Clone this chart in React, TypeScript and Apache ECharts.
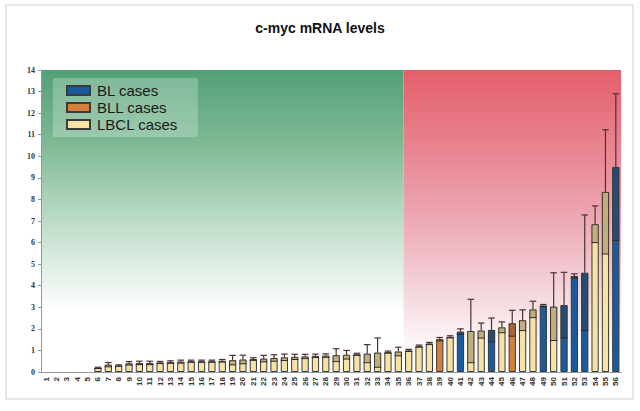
import React, { useEffect, useRef } from "react";
import * as echarts from "echarts";

const categories = [
  "1","2","3","4","5","6","7","8","9","10","11","12","13","14","15","16","17","18","19","20",
  "21","22","23","24","25","26","27","28","29","30","31","32","33","34","35","36","37","38","39","40",
  "41","42","43","44","45","46","47","48","49","50","51","52","53","54","55","56",
];

const meanValues = [
  0, 0, 0, 0, 0, 0.19, 0.34, 0.3, 0.4, 0.42, 0.42, 0.44, 0.46, 0.48, 0.5, 0.5, 0.5, 0.52, 0.55, 0.58,
  0.6, 0.62, 0.65, 0.68, 0.7, 0.72, 0.75, 0.76, 0.78, 0.8, 0.82, 0.85, 0.9, 0.92, 0.95, 1.0, 1.2, 1.32, 1.52, 1.63,
  1.87, 1.9, 1.92, 1.95, 2.07, 2.26, 2.4, 2.9, 3.08, 3.03, 3.1, 4.45, 4.6, 6.85, 8.35, 9.5,
];

const sdValues = [
  0, 0, 0, 0, 0, 0.03, 0.1, 0.03, 0.08, 0.08, 0.08, 0.05, 0.06, 0.07, 0.05, 0.05, 0.05, 0.06, 0.22, 0.2,
  0.06, 0.15, 0.15, 0.15, 0.12, 0.1, 0.08, 0.08, 0.3, 0.2, 0.05, 0.42, 0.68, 0.05, 0.2, 0.05, 0.05, 0.05, 0.08, 0.05,
  0.13, 1.47, 0.35, 0.55, 0.25, 0.6, 0.48, 0.38, 0.05, 1.57, 1.52, 0.1, 2.68, 0.85, 2.88, 3.4,
];

const blCases = ["41", "44", "49", "51", "52", "53", "56"];
const bllCases = ["39", "46"];

const greenRange = ["1", "35"];
const redRange = ["36", "56"];

const yTicks = { min: 0, max: 14, interval: 1 };

export default function App() {
  const ref = useRef<HTMLDivElement>(null);

  useEffect(() => {
    if (!ref.current) return;
    const chart = echarts.init(ref.current, undefined, { renderer: "svg" });

    const groupOf = (c: string) =>
      blCases.includes(c) ? "BL" : bllCases.includes(c) ? "BLL" : "LBCL";

    const barData = (g: string) =>
      categories.map((c, i) => (groupOf(c) === g && meanValues[i] > 0 ? meanValues[i] : "-"));

    const barStyle = (color: string) => ({
      color,
      borderColor: "#3a3a3a",
      borderWidth: 1,
    });

    const greenGrad = new echarts.graphic.LinearGradient(0, 0, 0, 1, [
      { offset: 0, color: "#52a077" },
      { offset: 0.25, color: "#80ba95" },
      { offset: 0.5, color: "#bddcc8" },
      { offset: 0.72, color: "#eef6f1" },
      { offset: 0.8, color: "#ffffff" },
      { offset: 1, color: "#ffffff" },
    ]);
    const redGrad = new echarts.graphic.LinearGradient(0, 0, 0, 1, [
      { offset: 0, color: "#e55e6b" },
      { offset: 0.25, color: "#e8838f" },
      { offset: 0.5, color: "#eda9b5" },
      { offset: 0.75, color: "#f5d9df" },
      { offset: 0.9, color: "#fdf6f7" },
      { offset: 1, color: "#ffffff" },
    ]);

    const bgData = [
      [categories.indexOf(greenRange[0]), yTicks.max, categories.indexOf(greenRange[1]), 0],
      [categories.indexOf(redRange[0]), yTicks.max, categories.indexOf(redRange[1]), 1],
    ];

    const errData = categories.map((c, i) => [i, meanValues[i], sdValues[i]]);

    const option: any = {
      animation: false,
      backgroundColor: "#ffffff",
      title: {
        text: "c-myc mRNA levels",
        left: "center",
        top: 16,
        textStyle: {
          fontSize: 14,
          fontWeight: "bold",
          fontFamily: "Liberation Sans, Arial, sans-serif",
          color: "#111",
        },
      },
      legend: {
        orient: "vertical",
        left: 53,
        top: 78,
        padding: [5, 20, 5, 13],
        itemGap: 2,
        itemWidth: 23,
        itemHeight: 9,
        icon: "rect",
        backgroundColor: "rgba(255,255,255,0.25)",
        data: ["BL cases", "BLL cases", "LBCL cases"],
        textStyle: {
          fontSize: 15,
          fontFamily: "Liberation Sans, Arial, sans-serif",
          color: "#1a1a1a",
          padding: [0, 0, 0, 2],
        },
      },
      graphic: [
        {
          type: "rect",
          silent: true,
          z: -10,
          shape: { x: 6, y: 5, width: 627, height: 394 },
          style: { fill: "none", stroke: "#cfcfcf", lineWidth: 1 },
        },
      ],
      grid: { left: 41, right: 19, top: 70, bottom: 39 },
      xAxis: {
        type: "category",
        data: categories,
        axisLine: { lineStyle: { color: "#8b9aa6", width: 1 } },
        axisTick: { show: false },
        axisLabel: {
          rotate: 90,
          interval: 0,
          fontSize: 8,
          fontWeight: "bold",
          fontFamily: "Liberation Sans, Arial, sans-serif",
          color: "#333",
          margin: 5,
        },
      },
      yAxis: {
        type: "value",
        min: yTicks.min,
        max: yTicks.max,
        interval: yTicks.interval,
        splitLine: { show: false },
        axisLine: { show: true, lineStyle: { color: "#8b9aa6", width: 1 } },
        axisTick: { show: true, length: 3, lineStyle: { color: "#8b9aa6" } },
        axisLabel: {
          fontSize: 8,
          fontWeight: "bold",
          fontFamily: "Liberation Serif, serif",
          color: "#333",
          margin: 6,
        },
      },
      series: [
        {
          type: "custom",
          name: "bg",
          z: 0,
          silent: true,
          encode: { x: 0, y: 1 },
          data: bgData,
          renderItem: (params: any, api: any) => {
            const i0 = api.value(0);
            const i1 = api.value(2);
            const kind = api.value(3);
            const bw = api.size([1, 0])[0];
            const a = api.coord([i0, yTicks.max]);
            const b = api.coord([i1, 0]);
            const x0 = a[0] - bw / 2;
            const x1 = b[0] + bw / 2;
            return {
              type: "rect",
              shape: { x: x0, y: a[1], width: x1 - x0, height: b[1] - a[1] },
              style: { fill: kind === 0 ? greenGrad : redGrad },
            };
          },
        },
        {
          type: "bar",
          name: "BL cases",
          z: 2,
          barWidth: "70%",
          barGap: "-100%",
          itemStyle: barStyle("#1c5b9b"),
          data: barData("BL"),
        },
        {
          type: "bar",
          name: "BLL cases",
          z: 2,
          barWidth: "70%",
          barGap: "-100%",
          itemStyle: barStyle("#d47f3a"),
          data: barData("BLL"),
        },
        {
          type: "bar",
          name: "LBCL cases",
          z: 2,
          barWidth: "70%",
          barGap: "-100%",
          itemStyle: barStyle("#f6e2a2"),
          data: barData("LBCL"),
        },
        {
          type: "custom",
          name: "err",
          z: 3,
          silent: true,
          encode: { x: 0, y: 1 },
          data: errData,
          renderItem: (params: any, api: any) => {
            const idx = api.value(0);
            const m = api.value(1);
            const s = api.value(2);
            if (!(s > 0) || !(m > 0)) return null;
            const bw = api.size([1, 0])[0] * 0.7;
            const top = api.coord([idx, m]);
            const hi = api.coord([idx, m + s]);
            const lo = api.coord([idx, Math.max(0, m - s)]);
            const x = top[0];
            const stroke = "#4a3232";
            return {
              type: "group",
              children: [
                {
                  type: "rect",
                  shape: { x: x - bw / 2, y: top[1], width: bw, height: lo[1] - top[1] },
                  style: { fill: "rgba(55,40,20,0.28)" },
                },
                {
                  type: "line",
                  shape: { x1: x - bw / 2, y1: lo[1], x2: x + bw / 2, y2: lo[1] },
                  style: { stroke: "#2e2a2a", lineWidth: 1 },
                },
                {
                  type: "line",
                  shape: { x1: x, y1: top[1], x2: x, y2: hi[1] },
                  style: { stroke, lineWidth: 1.2 },
                },
                {
                  type: "line",
                  shape: { x1: x - bw * 0.45, y1: hi[1], x2: x + bw * 0.45, y2: hi[1] },
                  style: { stroke, lineWidth: 1.2 },
                },
              ],
            };
          },
        },
      ],
    };

    chart.setOption(option);
    return () => chart.dispose();
  }, []);

  return (
    <div
      ref={ref}
      style={{ position: "fixed", left: 0, top: 0, width: 640, height: 411, background: "#fff" }}
    />
  );
}
